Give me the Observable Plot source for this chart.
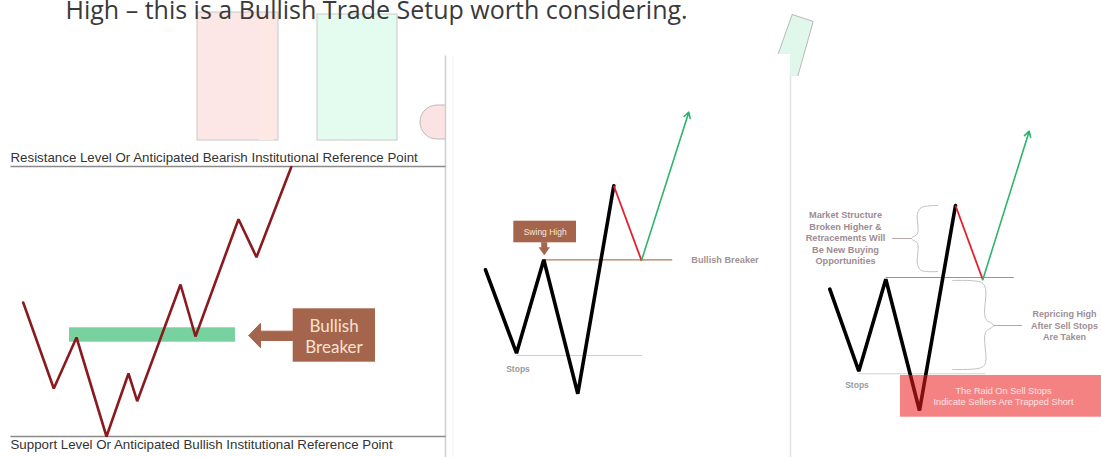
<!DOCTYPE html>
<html><head><meta charset="utf-8">
<script src="https://cdn.jsdelivr.net/npm/d3@7"></script>
<script src="https://cdn.jsdelivr.net/npm/@observablehq/plot@0.6"></script>
<style>html,body{margin:0;padding:0;background:#fff;overflow:hidden}#chart svg{display:block}</style>
</head><body><div id="chart"></div>
<script>
// ---------- data (diagram units = picture units) ----------
const headline = "High – this is a Bullish Trade Setup worth considering.";
const resistanceLabel = "Resistance Level Or Anticipated Bearish Institutional Reference Point";
const supportLabel = "Support Level Or Anticipated Bullish Institutional Reference Point";
const breakerWords = ["Bullish", "Breaker"];
const marketStructureLines = ["Market Structure", "Broken Higher &", "Retracements Will", "Be New Buying", "Opportunities"];
const repricingLines = ["Repricing High", "After Sell Stops", "Are Taken"];
const raidLines = ["The Raid On Sell Stops", "Indicate Sellers Are Trapped Short"];

// panel 1 price path
const path1X = [22.7, 53.3, 76, 106, 128, 136.7, 180, 195, 238, 256, 290.7];
const path1Y = [302, 388, 337, 436, 373, 400.7, 284, 336, 218.7, 256.7, 166.7];
// panel 2 price path (black leg, red retrace, green continuation)
const path2X = [485, 516, 543.3, 577.3, 613.3];
const path2Y = [269.3, 352.7, 259.3, 393.3, 185.3];
const retrace2 = [613.3, 185.3, 641, 260];
const impulse2 = [641, 260, 688.3, 111.7];
// panel 3 price path
const path3X = [829.3, 858.3, 885.3, 919, 955];
const path3Y = [288.7, 370.7, 278.7, 410, 205];
const retrace3 = [955, 205, 982.3, 279.3];
const impulse3 = [982.3, 279.3, 1028.7, 130.7];

// levels
const resistanceLevel = 166, supportLevel = 436;
const breakerBand = [69, 235, 327.3, 341.7];
const breakerLevel2 = 259.3, stopsLevel2 = 355;
const breakerLevel3 = 277, stopsLevel3 = 373.3;

// brace outlines
const braceLeft = [[937,205],[921,207],[917,213],[917,233],[911,238],[917,243],[917,264],[921,270],[937,271]];
const braceRight = [[952,280],[981,282],[985,288],[985,318],[993,325],[985,332],[985,362],[981,367],[952,369]];

// ---------- helpers ----------
const W = 1101, H = 457;
const pts = (xs, ys) => xs.map((x, i) => ({x, y: ys[i]}));
const pairs = a => a.map(([x, y]) => ({x, y}));
const closed = a => { const p = pairs(a); return p.concat([p[0]]); };
const seg = (x1, y1, x2, y2) => ({x1, y1, x2, y2});
const sans = "Liberation Sans, Arial, sans-serif";
const R = {x1:"x1", x2:"x2", y1:"y1", y2:"y2"};

const marks = [
  // background decorations of the page behind the panels
  Plot.rect([{x1:197, x2:278, y1:12, y2:140}], {...R, fill:"#fde6e6", stroke:"#c8c8c8", strokeWidth:1}),
  Plot.rect([{x1:259, x2:273, y1:13, y2:140}], {...R, fill:"#fde8e4"}),
  Plot.rect([{x1:317, x2:397, y1:14, y2:140}], {...R, fill:"#e4fcef", stroke:"#c8c8c8", strokeWidth:1}),
  Plot.rect([{x1:420, x2:480, y1:105, y2:139}], {...R, fill:"#fbe3e3", stroke:"#bbb", strokeWidth:1, rx:17}),
  Plot.line(closed([[791.7,14],[812.7,21],[795.5,82],[767.5,82]]), {x:"x", y:"y", fill:"#e0f8ec", stroke:"#b8b8b8", strokeWidth:1}),
  // panel sheets
  Plot.rect([{x1:446, x2:790, y1:54, y2:H}], {...R, fill:"#fff"}),
  Plot.rect([{x1:790.5, x2:W, y1:76, y2:H}], {...R, fill:"#fff"}),
  Plot.link([seg(445,55,445,H)], {...R, stroke:"#cfcfcf", strokeWidth:1.5}),
  Plot.link([seg(452.5,55,452.5,H)], {...R, stroke:"#efefef", strokeWidth:1}),
  Plot.link([seg(790,75,790,H)], {...R, stroke:"#e2e2e2", strokeWidth:1.5}),
  // headline
  Plot.text([headline], {x:65, y:10.5, text:d=>d, textAnchor:"start", fontSize:25, fontFamily:"Open Sans, sans-serif", fill:"#3a3a3a"}),

  // ---------- panel 1 ----------
  Plot.link([seg(10,resistanceLevel,445,resistanceLevel), seg(10,supportLevel,445,supportLevel)], {...R, stroke:"#8a8a8a", strokeWidth:1.5}),
  Plot.text([resistanceLabel], {x:10, y:157, text:d=>d, textAnchor:"start", fontSize:13.3, fontFamily:sans, fill:"#333"}),
  Plot.text([supportLabel], {x:10, y:444.5, text:d=>d, textAnchor:"start", fontSize:13.3, fontFamily:sans, fill:"#333"}),
  Plot.rect([{x1:breakerBand[0], x2:breakerBand[1], y1:breakerBand[2], y2:breakerBand[3]}], {...R, fill:"#77d2a0"}),
  Plot.line(pts(path1X, path1Y), {x:"x", y:"y", stroke:"#8b1a1f", strokeWidth:2.6, strokeLinejoin:"miter"}),
  Plot.line(closed([[248.3,335],[260,322.7],[260,330.7],[293,330.7],[293,340],[260,340],[260,347.3]]), {x:"x", y:"y", fill:"#a5654c", stroke:"#a5654c", strokeWidth:1}),
  Plot.rect([{x1:292.7, x2:375, y1:308.3, y2:361.7}], {...R, fill:"#a5654c"}),
  Plot.text(breakerWords, {x:333.5, y:(d,i)=>[325.7,347.3][i], text:d=>d, fontSize:17, fontFamily:"Lato, sans-serif", fill:"#f6e2d4"}),

  // ---------- panel 2 ----------
  Plot.link([seg(543,breakerLevel2,671.7,breakerLevel2)], {...R, stroke:"#b07a62", strokeWidth:1.2}),
  Plot.link([seg(516,stopsLevel2,641.7,stopsLevel2)], {...R, stroke:"#cfcfcf", strokeWidth:1}),
  Plot.line(pts(path2X, path2Y), {x:"x", y:"y", stroke:"#000", strokeWidth:3.6, strokeLinejoin:"miter"}),
  Plot.link([seg(...retrace2)], {...R, stroke:"#e3202c", strokeWidth:1.8}),
  Plot.arrow([seg(...impulse2)], {...R, stroke:"#2fb36c", strokeWidth:1.6, headLength:6}),
  Plot.rect([{x1:513.3, x2:576, y1:220.7, y2:242.3}], {...R, fill:"#a5654c"}),
  Plot.line(closed([[541,242],[546.5,242],[546.5,247],[549,247],[543.8,254.5],[538.5,247],[541,247]]), {x:"x", y:"y", fill:"#a5654c", stroke:"#a5654c", strokeWidth:0.5}),
  Plot.text(["Swing High"], {x:544.7, y:231.5, text:d=>d, fontSize:8.5, fontFamily:sans, fill:"#f7e6dc"}),
  Plot.text(["Bullish Breaker"], {x:724.5, y:259.5, text:d=>d, fontSize:9.2, fontWeight:"bold", fontFamily:sans, fill:"#a29292"}),
  Plot.text(["Stops"], {x:517.5, y:369, text:d=>d, fontSize:8.5, fontWeight:"bold", fontFamily:sans, fill:"#9a9a9a"}),

  // ---------- panel 3 ----------
  Plot.link([seg(885,breakerLevel3,1013.3,breakerLevel3)], {...R, stroke:"#b48a78", strokeWidth:1.2}),
  Plot.link([seg(858,stopsLevel3,985,stopsLevel3)], {...R, stroke:"#d2d2d2", strokeWidth:1}),
  Plot.line(pairs(braceLeft), {x:"x", y:"y", stroke:"#c4c0c0", strokeWidth:1, curve:"catmull-rom"}),
  Plot.line(pairs(braceRight), {x:"x", y:"y", stroke:"#c4c0c0", strokeWidth:1, curve:"catmull-rom"}),
  Plot.link([seg(911,238,891.7,238), seg(993,325,1021.7,325)], {...R, stroke:"#b8a8a8", strokeWidth:1}),
  Plot.line(pts(path3X, path3Y), {x:"x", y:"y", stroke:"#000", strokeWidth:3.6, strokeLinejoin:"miter"}),
  Plot.link([seg(...retrace3)], {...R, stroke:"#e3202c", strokeWidth:1.8}),
  Plot.arrow([seg(...impulse3)], {...R, stroke:"#2fb36c", strokeWidth:1.6, headLength:6}),
  Plot.rect([{x1:900, x2:W, y1:375, y2:416.7}], {...R, fill:"#ec1c1c", fillOpacity:0.55}),
  Plot.text(raidLines, {x:1003, y:(d,i)=>[390.7,402][i], text:d=>d, fontSize:9.2, fontFamily:sans, fill:"#ffe4e4"}),
  Plot.text(marketStructureLines, {x:845, y:(d,i)=>215+i*11.5, text:d=>d, fontSize:9.2, fontWeight:"bold", fontFamily:sans, fill:"#9e8c94"}),
  Plot.text(repricingLines, {x:1064, y:(d,i)=>314+i*11.3, text:d=>d, fontSize:9, fontWeight:"bold", fontFamily:sans, fill:"#a08e96"}),
  Plot.text(["Stops"], {x:856.5, y:384.3, text:d=>d, fontSize:8.5, fontWeight:"bold", fontFamily:sans, fill:"#9a9a9a"})
];

const chart = Plot.plot({
  width: W, height: H,
  margin: 0,
  x: {domain: [0, W], range: [0, W], axis: null},
  y: {domain: [0, H], range: [0, H], axis: null},
  style: {background: "#fff", overflow: "visible"},
  marks
});
document.getElementById("chart").append(chart);
</script>
</body></html>
